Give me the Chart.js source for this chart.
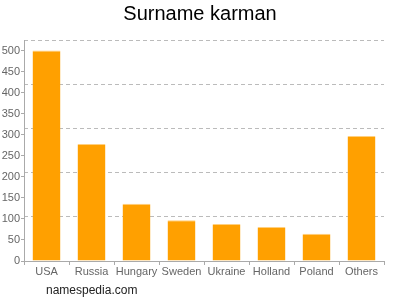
<!DOCTYPE html>
<html>
<head>
<meta charset="utf-8">
<script src="https://cdn.jsdelivr.net/npm/chart.js@4"></script>
<style>
  html, body { margin: 0; padding: 0; background: #fff; }
  #wrap { position: relative; width: 400px; height: 300px; }
  #site { position: absolute; left: 46px; top: 283px; font: 12px "Liberation Sans", Arial, sans-serif; color: #222; }
</style>
</head>
<body>
<div id="wrap">
  <canvas id="c" width="400" height="300"></canvas>
  <div id="site">namespedia.com</div>
</div>
<script>
const categories = ["USA", "Russia", "Hungary", "Sweden", "Ukraine", "Holland", "Poland", "Others"];
const counts = [500, 278, 136, 97, 88, 81, 65, 297];
const yTickStep = 50;
const yMax = 525;
const gridDivisions = 5;

const FONT = '"Liberation Sans", Arial, sans-serif';

new Chart(document.getElementById('c'), {
  type: 'bar',
  data: {
    labels: categories,
    datasets: [{
      data: counts,
      backgroundColor: '#FFA000',
      borderColor: '#FFD080',
      borderWidth: { top: 1, left: 0, right: 0, bottom: 0 },
      borderSkipped: 'bottom',
      categoryPercentage: 1.0,
      barPercentage: 0.62,
      yAxisID: 'y'
    }]
  },
  options: {
    responsive: false,
    animation: false,
    devicePixelRatio: 1,
    layout: { padding: 0 },
    plugins: {
      legend: { display: false },
      tooltip: { enabled: false },
      title: {
        display: true,
        text: 'Surname karman',
        color: '#000',
        font: { family: FONT, size: 20, weight: 'normal', lineHeight: 1.2 },
        padding: { top: 2, bottom: 14 }
      }
    },
    scales: {
      x: {
        grid: { drawOnChartArea: false, drawTicks: true, tickLength: 4, color: '#aaa' },
        border: { display: true, color: '#aaa' },
        ticks: { color: '#666', font: { family: FONT, size: 11 }, padding: 0, maxRotation: 0, autoSkip: false },
        afterFit: (s) => { s.height = 39; }
      },
      y: {
        position: 'left',
        min: 0,
        max: yMax,
        grid: { drawOnChartArea: false, drawTicks: true, tickLength: 3, color: '#aaa' },
        border: { display: true, color: '#aaa' },
        ticks: { stepSize: yTickStep, includeBounds: false, color: '#666', font: { family: FONT, size: 11 }, padding: 1 },
        afterFit: (s) => { s.width = 24; }
      },
      g: {
        position: 'right',
        min: 0,
        max: gridDivisions,
        grid: {
          drawOnChartArea: true,
          drawTicks: false,
          tickLength: 0,
          color: (ctx) => ctx.tick && ctx.tick.value === 0 ? 'rgba(0,0,0,0)' : '#bbb',
          lineWidth: 1
        },
        border: { display: false, dash: [4, 3] },
        ticks: { display: false, stepSize: 1 },
        afterFit: (s) => { s.width = 16; }
      }
    }
  }
});
</script>
</body>
</html>
